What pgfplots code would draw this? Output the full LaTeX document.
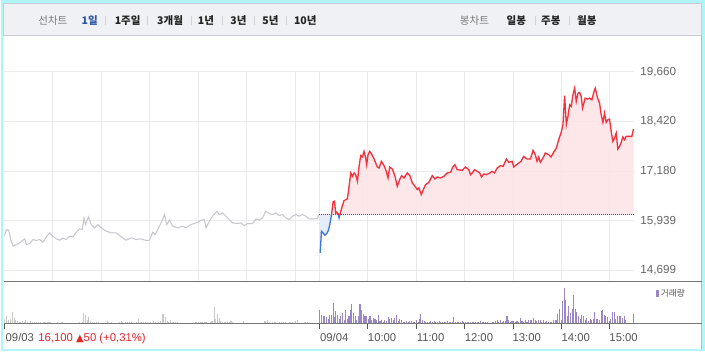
\documentclass[border=0pt]{standalone}
\usepackage{fontspec}
\setmainfont{Liberation Sans}
\newfontfamily\kr{Noto Sans CJK KR}
\newfontfamily\dejavu{DejaVu Sans}
\usepackage{pgfplots}
\usepackage{pgfplotstable}
\pgfplotsset{compat=1.18}

\definecolor{cyanbg}{HTML}{B0F6F6}
\definecolor{hdrbg}{HTML}{F0F1F5}
\definecolor{hdrborder}{HTML}{C9CCD4}
\definecolor{hdrgray}{HTML}{7A7A7A}
\definecolor{hdrblue}{HTML}{2F55A8}
\definecolor{hdrtext}{HTML}{222222}
\definecolor{hdrsep}{HTML}{D2D2D6}
\definecolor{rborder}{HTML}{BBBBBB}
\definecolor{gridc}{HTML}{EBEBEB}
\definecolor{day1c}{HTML}{C6C6CC}
\definecolor{redline}{HTML}{F2323E}
\definecolor{blueline}{HTML}{3B78D8}
\definecolor{pinkfill}{HTML}{FDE3E6}
\definecolor{bluefill}{HTML}{E5ECF8}
\definecolor{dotc}{HTML}{555555}
\definecolor{sepgray}{HTML}{777777}
\definecolor{tickc}{HTML}{555555}
\definecolor{ylab}{HTML}{666666}
\definecolor{xlab}{HTML}{555555}
\definecolor{redtext}{HTML}{E8232B}
\definecolor{volgray}{HTML}{C8C8C8}
\definecolor{volpurple}{HTML}{9B86C8}

\pgfplotstableread{
m p
0 15555
2.5 15721
5.4 15705
7.8 15472
10.7 15306
14.8 15347
18.9 15389
25.1 15488
27.2 15347
31.3 15372
35.4 15472
39.5 15447
43.7 15472
47.8 15405
51.9 15538
56.0 15638
60.2 15555
64.3 15488
68.4 15455
72.5 15505
76.6 15472
80.7 15555
84.9 15538
89.0 15655
93.1 15738
96.4 15721
98.5 16012
100.5 15846
104.2 16037
107.5 15846
111.6 15763
115.8 15846
119.9 15763
126.1 15680
132.3 15638
138.4 15638
144.6 15538
150.8 15455
157.0 15513
163.2 15472
169.3 15488
175.5 15447
179.6 15455
183.8 15655
186.6 15596
189.9 15721
194.1 15887
198.2 16095
201.1 15846
204.4 15954
208.5 15804
214.7 15763
220.8 15804
224.9 15763
231.1 15846
237.3 15887
243.5 15954
247.6 15970
249.7 15763
253.8 15929
257.9 16054
263.3 16178
266.1 16095
270.3 16137
274.4 16054
278.5 15970
282.6 15887
288.8 15871
292.9 15887
297.1 15821
301.2 15871
307.3 15871
311.5 15987
315.6 15954
319.7 16012
323.8 16178
328.0 16120
332.1 16095
336.2 16137
340.3 16070
344.4 16095
348.6 16012
352.7 15970
356.8 16054
360.9 16095
365.0 16054
369.2 16095
373.3 16054
377.4 15987
383.6 15987
387.7 16004
390 16100
}\dayone

\pgfplotstableread{
m p
391.1 15139
392.7 15680
394.8 15638
396.8 15580
399.3 15621
401.4 15704
403.0 15846
405.1 16087
407.1 16411
408.8 16428
410.4 16120
411.7 16153
413.3 16120
414.5 16012
415.8 16120
417.8 16261
420.7 16444
424.8 16486
426.9 16801
429.0 17134
431.0 17051
433.1 17134
435.1 17092
437.2 16926
439.3 17300
441.3 17566
443.4 17533
445.4 17674
447.5 17508
448.7 17342
450.4 17591
452.4 17674
454.5 17616
457.8 17483
461.9 17283
464.0 17258
466.9 17425
470.2 17317
473.0 17175
475.1 17009
477.2 17283
480.5 17233
483.8 17051
486.6 16801
489.5 16968
492.0 17067
494.9 17009
499.0 17134
502.3 17067
505.2 16885
508.5 16801
511.4 16718
513.4 16760
516.3 16594
518.8 16718
521.7 16843
525.8 16901
529.9 17067
533.2 16984
536.1 17034
540.2 17009
544.3 17051
548.4 17134
552.6 17150
555.4 17283
557.9 17342
560.8 17217
567.0 17200
571.1 17283
575.2 17217
577.3 17092
579.4 17134
582.2 17217
585.5 17175
588.8 17134
590.9 17034
593.8 17109
597.1 17092
601.2 17134
604.1 17175
607.0 17134
610.3 17258
614.4 17317
617.7 17300
621.8 17483
624.7 17400
628.8 17425
630.9 17283
634.2 17342
637.0 17383
639.9 17425
643.2 17549
647.3 17483
651.5 17483
654.8 17699
657.6 17591
659.7 17425
661.8 17533
663.8 17400
667.1 17508
670.0 17633
674.1 17591
677.0 17533
680.3 17649
683.6 17757
686.5 17965
689.4 18131
691.8 18339
693.9 19062
696.0 18339
698.0 18547
700.1 18837
702.1 18796
704.2 19087
706.3 19253
708.3 18920
710.4 19128
712.4 19145
714.5 19045
716.1 18754
719.4 19004
722.3 18979
724.8 19004
727.7 18962
729.7 19128
731.8 19253
734.7 19004
737.2 18879
739.2 18588
741.3 18397
743.3 18630
745.4 18397
747.5 18464
749.5 18480
751.6 18173
753.6 17923
755.7 18006
757.8 18131
759.8 17732
761.9 17799
764.0 17898
766.0 18031
768.1 17965
770.1 18048
774.2 18048
777.1 18048
779.2 18231
}\daytwo

% the two baseline corners (previous close 16,100) that close the day-2 area
\pgfplotstableread{
m p
779.2 16100
391.1 16100
}\closers
\pgfplotstablevertcat{\daytwofill}{\daytwo}
\pgfplotstablevertcat{\daytwofill}{\closers}

\pgfplotstableread{
m v
0.4 4.7
2.5 8
4.5 4
7.4 4.7
9.9 12.3
11.9 5.7
13.6 4
16.1 3
18.1 2.3
20.2 2.3
22.2 3.3
24.3 2.3
26.4 4
28.4 2.3
30.5 1.3
32.5 3
34.6 1.7
36.7 2.3
39.6 1.7
42.4 2.3
44.9 1.7
46.6 1.3
49.0 2
51.1 2.3
53.1 2
55.2 2.3
57.3 1.7
60.1 1.3
64.3 1.3
66.3 1.7
70.5 2.3
72.5 2
74.6 1.3
77.9 1.3
80.7 1.3
86.9 1.3
90.2 1.3
93.5 1.7
96.4 2.3
98.0 10.7
100.5 9
102.6 4
104.2 7.3
106.7 3
108.8 2.3
111.6 1.7
113.7 2.3
116.6 1.7
119.9 1.3
124.0 1.3
127.3 3.3
129.4 1.7
132.2 2.3
136.4 1.3
139.7 1.3
142.5 1.7
144.6 3
146.7 2.3
149.6 1.7
152.9 1.7
154.9 2
157.8 1.7
160.3 1.3
163.2 2
166.0 5
168.1 2.3
170.2 1.7
172.6 2.3
174.7 1.7
177.6 1.7
180.4 2.3
182.5 1.3
184.6 3
186.6 1.7
188.7 1.3
191.2 1.7
193.2 3
195.3 10
197.3 9.7
199.4 7.3
201.5 3.3
203.5 2.3
205.6 4
207.6 1.7
209.7 2.3
211.8 2
214.7 1.7
217.9 1.3
220.8 1.3
227.0 1.3
230.3 1.3
233.2 1.3
237.3 1.7
240.2 2.3
242.7 1.7
244.7 2.3
247.6 1.7
249.7 2.3
252.6 1.3
255.0 2.3
257.1 3
260.0 17.3
262.0 4.7
264.1 10
266.2 5.7
268.2 3.3
270.3 2.3
272.3 2.3
274.4 2.3
276.5 2.3
278.5 2.3
280.6 3
282.6 1.7
284.7 1.3
292.1 1.3
296.2 3
299.1 1.3
301.2 1.3
309.4 1.3
311.5 1.3
314.4 1.3
321.8 3
323.8 3.3
325.9 4
328.0 1.7
330.0 1.3
332.1 1.7
334.1 2.3
336.2 1.7
338.3 1.3
340.3 1.7
343.6 2.3
345.7 1.7
347.7 1.7
349.8 1.3
352.7 1.7
354.7 1.7
356.8 1.7
358.9 1.3
360.9 3
363.0 4
365.0 1.3
367.1 1.3
369.2 1.3
371.2 1.7
373.3 1.7
375.4 1.7
377.4 1.3
379.5 1.3
383.6 1.3
387.7 1.3
}\volone

\pgfplotstableread{
m v
390.6 14.3
393.1 9.3
394.7 8.3
396.8 8.3
398.8 6.7
400.9 5
402.9 9.3
405.0 9.3
407.1 21.3
408.3 6.7
410.4 12.7
412.4 9.3
414.5 5
416.5 7.7
418.6 11
420.7 3.7
422.7 13.7
424.8 5
426.8 8.3
428.9 14.3
430.1 20.3
432.2 11
434.3 7.7
436.3 4.3
438.4 7.7
440.4 20.3
442.5 13.7
444.6 10.3
446.6 7.7
448.7 8.3
450.7 5
452.8 8.3
454.9 4.3
456.9 6
459.0 5
461.0 4.3
463.1 9.3
465.2 2.7
467.2 3.7
469.3 1.7
471.3 4.3
473.4 2.7
475.5 7
477.5 5
479.6 6
481.6 3.7
483.7 6
485.8 9.3
487.8 2.7
489.9 5
491.9 3.7
494.0 1.7
496.1 1.7
498.1 2.7
500.2 1.7
502.2 2.7
504.3 2.7
506.4 1.7
508.4 1.7
510.5 3.7
512.5 1.7
514.6 5
515.8 10.3
517.9 3.7
519.9 2.7
522.0 1.7
524.1 1.7
526.1 1.7
528.2 2.7
530.3 1.7
532.3 2.7
534.4 1.7
536.4 1.7
538.5 2.7
540.6 1.7
542.6 1.7
544.7 1.7
546.7 1.7
548.8 2.7
550.9 1.7
552.9 1.7
555.0 1.7
556.6 7
558.7 1.7
560.7 1.7
562.8 1.7
564.9 1.7
566.9 2.7
569.0 1.7
571.0 1.7
573.1 1.7
575.2 1.7
577.2 1.7
579.3 1.7
581.3 1.7
583.4 1.7
585.5 1.7
587.5 1.7
589.6 2.7
591.6 1.7
593.7 1.7
595.8 1.7
597.8 1.7
604.0 1.7
606.1 1.7
608.1 2.7
610.2 3.7
612.2 1.7
614.3 4.3
616.4 1.7
618.4 2.7
620.5 2.7
622.5 7.7
624.6 3.7
626.7 1.7
628.7 2.7
630.8 2.7
632.8 1.7
634.9 2.7
637.0 1.7
639.0 6
641.1 2.7
643.1 1.7
645.2 4.3
647.3 1.7
649.3 3.7
651.4 4.3
653.4 3.7
655.5 6
657.6 4.3
659.6 2.7
661.7 4.3
663.7 3.7
665.8 1.7
667.9 3.7
669.9 1.7
672.0 2.7
674.0 1.7
676.1 1.7
678.2 1.7
680.2 3.7
682.3 4.3
684.3 4.3
685.6 10.3
687.6 15
689.7 4.3
691.3 23.3
693.8 36
695.5 23.7
697.5 8.3
699.2 17.7
701.2 11
703.3 15
704.9 29.3
707.0 15
709.1 11.7
711.1 7.7
713.2 5
715.2 9.3
717.3 7.7
719.4 4.3
721.4 6
723.5 2.7
725.5 5
727.6 4.3
729.7 5
730.9 12.3
733.0 5
735.0 5
737.1 4.3
739.1 12.7
740.8 13.7
742.8 9.3
744.9 8.3
747.0 6.7
749.0 2.7
751.1 5
753.1 12.3
755.2 11.7
757.3 5
759.3 7.7
761.4 7.7
763.4 7.7
765.5 6
767.6 8.3
769.6 3.7
779.1 10.3
}\voltwo

\pgfplotsset{
  basex/.style={scale only axis, width=473.25pt, xmin=0, xmax=780, anchor=south west},
  fullax/.style={basex, at={(2.25pt,52.5pt)}, height=157.5pt, ymin=14425, ymax=19660},
  upperax/.style={basex, at={(2.25pt,102.893pt)}, height=107.107pt, ymin=16100, ymax=19660, hide axis},
  lowerax/.style={basex, at={(2.25pt,52.5pt)}, height=50.393pt, ymin=14425, ymax=16100, hide axis},
}

\begin{document}
\begin{tikzpicture}
\begin{scope}[x=0.75pt,y=0.75pt]
\fill[cyanbg] (0,0) rectangle (705,352);
\fill[white] (2,2.5) rectangle (702,348.5);
\draw[hdrborder, fill=hdrbg, line width=0.75pt] (2.5,316.5) rectangle (701.5,348);
\draw[rborder, line width=0.75pt] (701.7,2.5) -- (701.7,316.5);
\foreach \sx in {104,146,190,222,254,286,535,569}
  \draw[hdrsep, line width=0.75pt] (\sx,326.5) -- (\sx,336);
\node[font=\kr\fontsize{7.9}{9}\selectfont, text=hdrgray, inner sep=0] at (51.5,331.6) {선차트};
\node[font=\kr\bfseries\fontsize{7.9}{9}\selectfont, text=hdrblue, inner sep=0] at (88.5,331.6) {1일};
\node[font=\kr\bfseries\fontsize{7.9}{9}\selectfont, text=hdrtext, inner sep=0] at (126.5,331.6) {1주일};
\node[font=\kr\bfseries\fontsize{7.9}{9}\selectfont, text=hdrtext, inner sep=0] at (169,331.6) {3개월};
\node[font=\kr\bfseries\fontsize{7.9}{9}\selectfont, text=hdrtext, inner sep=0] at (205,331.6) {1년};
\node[font=\kr\bfseries\fontsize{7.9}{9}\selectfont, text=hdrtext, inner sep=0] at (237.5,331.6) {3년};
\node[font=\kr\bfseries\fontsize{7.9}{9}\selectfont, text=hdrtext, inner sep=0] at (269.5,331.6) {5년};
\node[font=\kr\bfseries\fontsize{7.9}{9}\selectfont, text=hdrtext, inner sep=0] at (304.5,331.6) {10년};
\node[font=\kr\fontsize{7.9}{9}\selectfont, text=hdrgray, inner sep=0] at (474,331.6) {봉차트};
\node[font=\kr\bfseries\fontsize{7.9}{9}\selectfont, text=hdrtext, inner sep=0] at (516,331.6) {일봉};
\node[font=\kr\bfseries\fontsize{7.9}{9}\selectfont, text=hdrtext, inner sep=0] at (550.5,331.6) {주봉};
\node[font=\kr\bfseries\fontsize{7.9}{9}\selectfont, text=hdrtext, inner sep=0] at (586.5,331.6) {월봉};
\end{scope}

% main price panel: grid, ticks, day 1
\begin{axis}[fullax,
  axis line style={draw=none},
  major tick length=0pt,
  tick style={draw=none},
  scaled y ticks=false,
  xtick={60,120,180,240,300,360,390,450,510,570,630,690,750},
  xticklabels={},
  ytick={14699,15939,17180,18420,19660},
  yticklabels={{14,699},{15,939},{17,180},{18,420},{19,660}},
  yticklabel pos=right,
  yticklabel style={anchor=west, inner sep=0pt, xshift=4.5pt, text=ylab, font=\fontsize{8.75}{10}\selectfont},
  grid=major,
  grid style={gridc, line width=0.75pt},
]
\addplot[day1c, line width=0.75pt, mark=none] table[x=m,y=p] {\dayone};
\end{axis}

% fills: blue below the previous close, pink above it
\begin{axis}[lowerax]
\addplot[fill=bluefill, draw=none, fill opacity=0.9, mark=none] table[x=m,y=p] {\daytwofill};
\end{axis}
\begin{axis}[upperax]
\addplot[fill=pinkfill, draw=none, fill opacity=0.85, mark=none] table[x=m,y=p] {\daytwofill};
\end{axis}

% previous close dotted line
\begin{axis}[fullax, hide axis]
\addplot[dotc, line width=0.75pt, dash pattern=on 0.75pt off 0.75pt, mark=none] coordinates {(390,16100) (780,16100)};
\end{axis}

% day 2 line: blue below, red above
\begin{axis}[lowerax]
\addplot[blueline, line width=1pt, mark=none] table[x=m,y=p] {\daytwo};
\end{axis}
\begin{axis}[upperax]
\addplot[redline, line width=1pt, mark=none] table[x=m,y=p] {\daytwo};
\end{axis}

% volume panel
\begin{axis}[basex, at={(2.25pt,20.625pt)}, height=31.875pt, ymin=0, ymax=42.5,
  axis line style={draw=none}, ytick=\empty,
  xtick={0,390,450,510,570,630,690,750}, xticklabels={},
  xtick pos=left, tick align=outside, major tick length=3.75pt,
  tick style={tickc, line width=0.75pt}]
\addplot[ycomb, volgray, line width=0.8pt, mark=none] table[x=m,y=v] {\volone};
\addplot[ycomb, volpurple, line width=0.8pt, mark=none] table[x=m,y=v] {\voltwo};
\end{axis}

\begin{scope}[x=0.75pt,y=0.75pt]
\draw[sepgray, line width=1pt] (3,70) -- (702,70);
\draw[sepgray, line width=1pt] (3,27.5) -- (702,27.5);
\fill[volpurple] (656,54.5) rectangle (658.7,61.5);
\node[anchor=west, inner sep=0, font=\kr\fontsize{6.5}{8}\selectfont, text=xlab] at (660.5,58) {거래량};
\foreach \lx/\lt in {4/09\slash 03,319/09\slash 04,367/10:00,416/11:00,464/12:00,512/13:00,561/14:00,609/15:00}
  \node[anchor=base west, inner sep=0, text=xlab, font=\fontsize{8.5}{10}\selectfont] at (\lx,10) {\lt};
\node[anchor=base west, inner sep=0, text=redtext, font=\fontsize{8.5}{10}\selectfont] at (36.7,10) {16,100 {\dejavu\fontsize{7.5}{9}\selectfont ▲}50 (+0,31\%)};
\end{scope}
\end{tikzpicture}
\end{document}
